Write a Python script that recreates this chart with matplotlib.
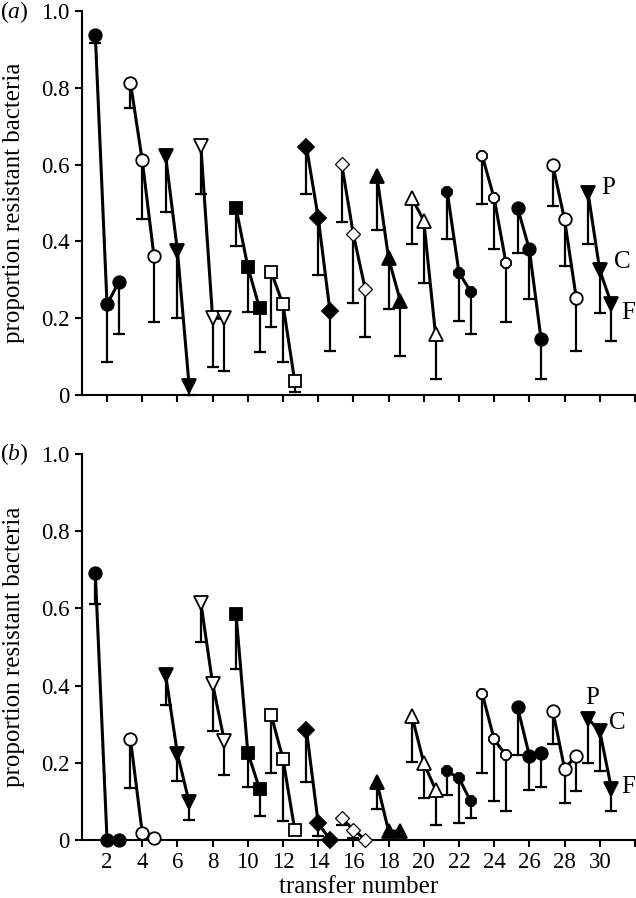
import matplotlib
matplotlib.use('Agg')
import matplotlib.pyplot as plt
import numpy as np

plt.rcParams['font.family'] = 'Liberation Serif'
plt.rcParams['mathtext.fontset'] = 'custom'
plt.rcParams['mathtext.it'] = 'Liberation Serif:italic'
plt.rcParams['mathtext.rm'] = 'Liberation Serif'

# transfer groups (centre of each P, C, F triplet)
transfers = [2, 4, 6, 8, 10, 12, 14, 16, 18, 20, 22, 24, 26, 28, 30]
offsets = [-2/3., 0, 2/3.]   # P, C, F

# marker for each group, and whether it is filled
markers = ['o', 'o', 'v', 'v', 's', 's', 'D', 'D', '^', '^', '8', '8', 'o', 'o', 'v']
filled = [1, 0, 1, 0, 1, 0, 1, 0, 1, 0, 1, 0, 1, 0, 1]

# panel (a): proportion resistant, rows = groups, cols = P, C, F
prop_a = [[0.938, 0.236, 0.294],
          [0.812, 0.611, 0.362],
          [0.621, 0.376, 0.024],
          [0.647, 0.200, 0.200],
          [0.486, 0.334, 0.226],
          [0.320, 0.236, 0.036],
          [0.646, 0.462, 0.219],
          [0.602, 0.418, 0.277],
          [0.571, 0.356, 0.245],
          [0.512, 0.454, 0.158],
          [0.529, 0.319, 0.269],
          [0.621, 0.512, 0.345],
          [0.487, 0.379, 0.145],
          [0.598, 0.457, 0.252],
          [0.527, 0.325, 0.237]]
# lower end of the error bars
lower_a = [[0.916, 0.085, 0.158],
           [0.748, 0.458, 0.191],
           [0.476, 0.201, 0.000],
           [0.523, 0.074, 0.064],
           [0.389, 0.217, 0.113],
           [0.178, 0.085, 0.009],
           [0.523, 0.312, 0.116],
           [0.450, 0.240, 0.152],
           [0.429, 0.224, 0.102],
           [0.394, 0.292, 0.041],
           [0.405, 0.194, 0.158],
           [0.497, 0.379, 0.191],
           [0.369, 0.249, 0.041],
           [0.493, 0.337, 0.115],
           [0.392, 0.213, 0.141]]

# panel (b)
prop_b = [[0.693, 0.000, 0.000],
          [0.260, 0.018, 0.003],
          [0.427, 0.223, 0.097],
          [0.614, 0.405, 0.256],
          [0.585, 0.226, 0.132],
          [0.323, 0.209, 0.026],
          [0.284, 0.043, 0.000],
          [0.056, 0.026, 0.000],
          [0.149, 0.022, 0.022],
          [0.320, 0.199, 0.130],
          [0.177, 0.160, 0.099],
          [0.377, 0.260, 0.219],
          [0.343, 0.218, 0.225],
          [0.334, 0.184, 0.218],
          [0.314, 0.282, 0.132]]
lower_b = [[0.611, 0.000, 0.000],
           [0.134, 0.018, 0.003],
           [0.349, 0.151, 0.052],
           [0.514, 0.282, 0.169],
           [0.442, 0.137, 0.061],
           [0.173, 0.049, 0.026],
           [0.149, 0.010, 0.000],
           [0.038, 0.005, 0.000],
           [0.080, 0.022, 0.022],
           [0.202, 0.108, 0.039],
           [0.117, 0.043, 0.055],
           [0.174, 0.100, 0.074],
           [0.219, 0.128, 0.137],
           [0.247, 0.094, 0.126],
           [0.199, 0.177, 0.074]]

msizes = {'o': 9, 'v': 9.5, 's': 8.5, 'D': 8, '^': 9.5, '8': 8}

fig = plt.figure(figsize=(6.36, 8.98), dpi=100)
ax_a = fig.add_axes([0.129, 0.560, 0.871, 0.428])
ax_b = fig.add_axes([0.129, 0.065, 0.871, 0.429])


def draw_panel(ax, prop, lower):
    for g in range(len(transfers)):
        x = [transfers[g] + o for o in offsets]
        y = prop[g]
        lo = lower[g]
        # one-sided error bars (down) with caps
        for i in range(3):
            if lo[i] < y[i]:
                ax.plot([x[i], x[i]], [lo[i], y[i]], color='k', lw=1.6, zorder=2, clip_on=False)
                ax.plot(x[i], lo[i], marker='_', ms=9, mew=1.6, color='k', zorder=2, clip_on=False)
        m = markers[g]
        ms = msizes[m]
        mew = 1.3
        if m == 'D' and not filled[g]:
            ms = 7.5
            mew = 0.9
        ax.plot(x, y, color='k', lw=2.2, marker=m, ms=ms,
                mfc='k' if filled[g] else 'white', mec='k', mew=mew,
                zorder=3, clip_on=False)

    ax.set_xlim(0.58, 32.06)
    ax.set_ylim(0, 1.0)
    ax.set_yticks([0, 0.2, 0.4, 0.6, 0.8, 1.0])
    ax.set_yticklabels(['0', '0.2', '0.4', '0.6', '0.8', '1.0'])
    ax.set_xticks(np.arange(2, 33, 2))
    ax.spines['top'].set_visible(False)
    ax.spines['right'].set_visible(False)
    ax.spines['left'].set_linewidth(1.5)
    ax.spines['bottom'].set_linewidth(1.5)
    ax.tick_params(direction='out', length=5, width=1.5, labelsize=16.5, pad=4)
    ax.set_ylabel('proportion resistant bacteria', fontsize=18)
    ax.yaxis.set_label_coords(-0.103, 0.5)


draw_panel(ax_a, prop_a, lower_a)
draw_panel(ax_b, prop_b, lower_b)

ax_a.set_xticklabels([])
ax_b.set_xticklabels([str(t) for t in range(2, 31, 2)] + [''])
ax_b.set_xlabel('transfer number', fontsize=18, va='top')
ax_b.xaxis.set_label_coords(0.5, -0.094)

# P, C, F labels
ax_a.text(30.47, 0.539, 'P', fontsize=18, ha='center', va='center')
ax_a.text(31.26, 0.346, 'C', fontsize=18, ha='center', va='center')
ax_a.text(31.6, 0.214, 'F', fontsize=18, ha='center', va='center')
ax_b.text(29.56, 0.367, 'P', fontsize=18, ha='center', va='center')
ax_b.text(30.97, 0.302, 'C', fontsize=18, ha='center', va='center')
ax_b.text(31.6, 0.136, 'F', fontsize=18, ha='center', va='center')

fig.text(0.0, 0.987, '($a$)', fontsize=17, ha='left', va='center')
fig.text(0.0, 0.494, '($b$)', fontsize=17, ha='left', va='center')

fig.savefig('out.png', dpi=100)
